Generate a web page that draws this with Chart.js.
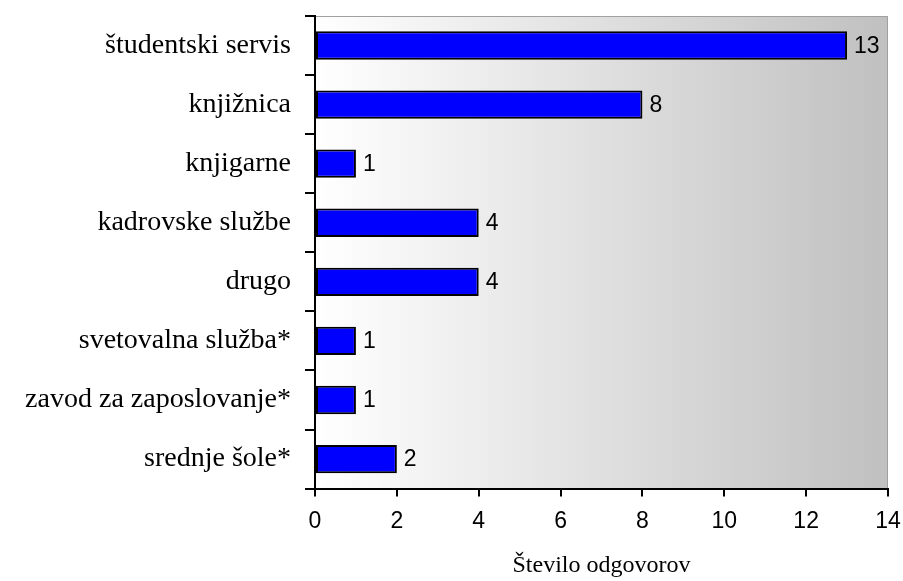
<!DOCTYPE html>
<html>
<head>
<meta charset="utf-8">
<script src="https://cdn.jsdelivr.net/npm/chart.js@4/dist/chart.umd.min.js"></script>
<style>
  html, body { margin: 0; padding: 0; background: #fff; }
  #wrap { width: 903px; height: 581px; }
</style>
</head>
<body>
<div id="wrap"><canvas id="chart" width="903" height="581"></canvas></div>
<script>
const categories = [
  'študentski servis',
  'knjižnica',
  'knjigarne',
  'kadrovske službe',
  'drugo',
  'svetovalna služba*',
  'zavod za zaposlovanje*',
  'srednje šole*'
];
const answers = [13, 8, 1, 4, 4, 1, 1, 2];
const xTicks = [0, 2, 4, 6, 8, 10, 12, 14];
const xTitle = 'Število odgovorov';

// gradient behind the plot + grey top/right frame
const plotBackground = {
  id: 'plotBackground',
  beforeDraw(chart) {
    const { ctx, chartArea: a } = chart;
    const g = ctx.createLinearGradient(a.left, 0, a.right, 0);
    g.addColorStop(0, '#ffffff');
    g.addColorStop(1, '#c0c0c0');
    ctx.save();
    ctx.fillStyle = g;
    ctx.fillRect(a.left, a.top, a.right - a.left, a.bottom - a.top);
    ctx.strokeStyle = '#a0a0a0';
    ctx.lineWidth = 1;
    ctx.beginPath();
    ctx.moveTo(a.left, a.top + 0.5);
    ctx.lineTo(a.right - 0.5, a.top + 0.5);
    ctx.lineTo(a.right - 0.5, a.bottom);
    ctx.stroke();
    ctx.restore();
  }
};

// numbers at the end of each bar
const valueLabels = {
  id: 'valueLabels',
  afterDatasetsDraw(chart) {
    const { ctx } = chart;
    const meta = chart.getDatasetMeta(0);
    ctx.save();
    ctx.font = '23px "Liberation Sans", Arial, sans-serif';
    ctx.fillStyle = '#000';
    ctx.textBaseline = 'middle';
    ctx.textAlign = 'left';
    meta.data.forEach((bar, i) => {
      ctx.fillText(String(answers[i]), bar.x + 7, bar.y + 1);
    });
    ctx.restore();
  }
};

new Chart(document.getElementById('chart').getContext('2d'), {
  type: 'bar',
  data: {
    labels: categories,
    datasets: [{
      data: answers,
      backgroundColor: '#0000ff',
      borderColor: '#000000',
      borderWidth: 2,
      borderSkipped: false,
      barPercentage: 0.48,
      categoryPercentage: 1
    }]
  },
  options: {
    indexAxis: 'y',
    responsive: false,
    animation: false,
    layout: { padding: { top: 16, right: 15, left: 0, bottom: 1 } },
    plugins: {
      legend: { display: false },
      tooltip: { enabled: false }
    },
    scales: {
      x: {
        min: 0,
        max: 14,
        afterBuildTicks(axis) {
          axis.ticks = xTicks.map(v => ({ value: v }));
        },
        afterFit(axis) { axis.paddingLeft = 0; axis.paddingRight = 0; },
        grid: { drawOnChartArea: false, tickLength: 8, color: '#000', lineWidth: 2 },
        border: { color: '#000', width: 2 },
        ticks: {
          color: '#000',
          padding: 11,
          font: { family: '"Liberation Sans", Arial, sans-serif', size: 23 }
        },
        title: {
          display: true,
          text: xTitle,
          color: '#000',
          padding: { top: 5, bottom: 0 },
          font: { family: '"Liberation Serif", "Times New Roman", serif', size: 24 }
        }
      },
      y: {
        afterFit(axis) { axis.width = 315; axis.paddingTop = 0; axis.paddingBottom = 0; },
        grid: { offset: true, drawOnChartArea: false, tickLength: 10, color: '#000', lineWidth: 2 },
        border: { color: '#000', width: 2 },
        ticks: {
          color: '#000',
          padding: 14,
          font: { family: '"Liberation Serif", "Times New Roman", serif', size: 28 }
        }
      }
    }
  },
  plugins: [plotBackground, valueLabels]
});
</script>
</body>
</html>
